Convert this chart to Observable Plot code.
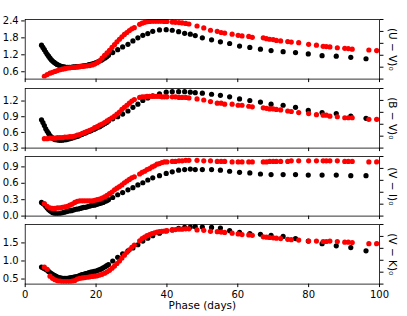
<!DOCTYPE html>
<html><head><meta charset="utf-8">
<script src="https://cdn.jsdelivr.net/npm/d3@7"></script>
<script src="https://cdn.jsdelivr.net/npm/@observablehq/plot@0.6"></script>
<style>
html,body{margin:0;padding:0;background:#fff;}
#chart{position:relative;width:407px;height:316px;overflow:hidden;font-family:"DejaVu Sans",sans-serif;}
#chart svg{position:absolute;left:0;overflow:visible;}
</style></head><body><div id="chart"></div>
<script>
const blackPhase = [
 4.6, 5.0, 5.4, 5.8, 6.2, 6.6, 7.0, 7.4, 7.8, 8.2,
 8.6, 9.0, 9.5, 10.0, 10.5, 11.0, 11.5, 12.0, 12.5, 13.0,
 13.5, 14.0, 14.5, 15.0, 15.5, 16.0, 16.5, 17.0, 17.5, 18.0,
 18.5, 19.0, 19.5, 20.0, 20.5, 21.0, 21.5, 22.0, 22.5, 23.0,
 23.5, 24.7, 26.1, 27.5, 29.0, 30.4, 31.8, 33.2, 34.6, 36.0,
 37.9, 39.8, 41.5, 43.3, 45.0, 46.6, 48.0, 50.0, 52.6, 55.1,
 57.7, 60.5, 63.4, 66.4, 69.4, 72.8, 76.3, 79.9, 83.8, 87.8,
 91.9, 96.2];
const redPhase = [
 5.4, 6.2, 7.0, 7.7, 8.4, 9.1, 9.8, 10.5, 11.2, 11.9,
 12.6, 13.3, 14.0, 14.7, 15.4, 16.1, 16.8, 17.5, 18.2, 18.9,
 19.6, 20.3, 21.0, 21.7, 22.4, 23.1, 23.8, 24.5, 25.2, 25.9,
 26.6, 27.3, 28.0, 28.7, 29.4, 30.1, 30.8, 32.3, 33.0, 33.7,
 34.4, 35.1, 35.8, 36.5, 37.2, 37.9, 38.6, 39.3, 40.0, 41.5,
 42.4, 43.4, 44.3, 45.3, 46.2, 48.5, 50.4, 52.3, 54.2, 55.3,
 56.3, 58.4, 60.1, 61.2, 63.1, 64.1, 67.2, 68.1, 69.0, 70.0,
 70.9, 72.1, 74.1, 75.1, 77.2, 80.0, 82.2, 84.1, 85.0, 86.0,
 88.1, 90.2, 91.2, 92.3, 97.0, 99.2];

const uvBlack = [
 1.54, 1.46, 1.38, 1.30, 1.22, 1.15, 1.08, 1.02, 0.97, 0.93,
 0.89, 0.86, 0.83, 0.80, 0.78, 0.77, 0.76, 0.76, 0.76, 0.76,
 0.77, 0.77, 0.78, 0.78, 0.79, 0.80, 0.81, 0.82, 0.83, 0.85,
 0.86, 0.88, 0.90, 0.92, 0.95, 0.98, 1.01, 1.05, 1.09, 1.13,
 1.18, 1.28, 1.38, 1.48, 1.57, 1.69, 1.80, 1.89, 1.95, 2.03,
 2.08, 2.09, 2.07, 2.02, 1.96, 1.93, 1.88, 1.80, 1.73, 1.66,
 1.60, 1.51, 1.46, 1.40, 1.35, 1.31, 1.28, 1.23, 1.17, 1.15,
 1.11, 1.06];
const uvRed = [
 0.44, 0.50, 0.55, 0.58, 0.61, 0.64, 0.67, 0.69, 0.71, 0.73,
 0.74, 0.75, 0.76, 0.77, 0.78, 0.79, 0.80, 0.81, 0.82, 0.84,
 0.87, 0.92, 0.99, 1.08, 1.18, 1.27, 1.36, 1.46, 1.56, 1.66,
 1.75, 1.84, 1.92, 1.99, 2.06, 2.12, 2.16, 2.28, 2.32, 2.35,
 2.37, 2.38, 2.39, 2.39, 2.39, 2.39, 2.39, 2.38, 2.38, 2.36,
 2.35, 2.34, 2.33, 2.31, 2.29, 2.22, 2.15, 2.07, 2.03, 1.99,
 1.97, 1.93, 1.89, 1.87, 1.85, 1.82, 1.80, 1.77, 1.75, 1.74,
 1.71, 1.69, 1.67, 1.65, 1.63, 1.57, 1.54, 1.50, 1.49, 1.48,
 1.45, 1.43, 1.42, 1.40, 1.37, 1.35];

const bvBlack = [
 0.84, 0.79, 0.73, 0.67, 0.62, 0.58, 0.54, 0.51, 0.49, 0.47,
 0.46, 0.46, 0.45, 0.45, 0.45, 0.46, 0.46, 0.47, 0.48, 0.49,
 0.50, 0.51, 0.52, 0.53, 0.55, 0.56, 0.58, 0.59, 0.61, 0.62,
 0.63, 0.65, 0.66, 0.68, 0.70, 0.71, 0.73, 0.75, 0.77, 0.79,
 0.82, 0.86, 0.90, 0.95, 1.01, 1.08, 1.14, 1.21, 1.26, 1.30,
 1.34, 1.37, 1.38, 1.38, 1.38, 1.37, 1.36, 1.35, 1.33, 1.31,
 1.28, 1.24, 1.21, 1.18, 1.14, 1.12, 1.08, 1.02, 0.98, 0.96,
 0.91, 0.87];
const bvRed = [
 0.48, 0.48, 0.49, 0.49, 0.49, 0.50, 0.50, 0.50, 0.51, 0.51,
 0.52, 0.52, 0.53, 0.55, 0.56, 0.58, 0.60, 0.62, 0.64, 0.66,
 0.69, 0.71, 0.74, 0.76, 0.79, 0.82, 0.85, 0.88, 0.91, 0.95,
 0.99, 1.04, 1.08, 1.12, 1.16, 1.20, 1.23, 1.27, 1.28, 1.28,
 1.29, 1.29, 1.29, 1.29, 1.29, 1.29, 1.28, 1.28, 1.28, 1.28,
 1.28, 1.27, 1.27, 1.27, 1.26, 1.24, 1.22, 1.19, 1.16, 1.16,
 1.14, 1.14, 1.12, 1.12, 1.10, 1.09, 1.07, 1.06, 1.05, 1.05,
 1.04, 1.03, 1.01, 1.00, 0.98, 0.96, 0.94, 0.93, 0.93, 0.91,
 0.90, 0.88, 0.88, 0.88, 0.85, 0.85];

const viBlack = [
 0.25, 0.23, 0.21, 0.18, 0.15, 0.12, 0.10, 0.08, 0.06, 0.05,
 0.04, 0.04, 0.04, 0.05, 0.06, 0.07, 0.08, 0.09, 0.10, 0.10,
 0.11, 0.12, 0.13, 0.13, 0.14, 0.15, 0.16, 0.16, 0.17, 0.18,
 0.19, 0.20, 0.20, 0.21, 0.22, 0.23, 0.24, 0.25, 0.27, 0.28,
 0.30, 0.34, 0.39, 0.43, 0.48, 0.52, 0.57, 0.61, 0.66, 0.70,
 0.74, 0.78, 0.81, 0.84, 0.85, 0.86, 0.85, 0.85, 0.85, 0.84,
 0.82, 0.80, 0.79, 0.77, 0.76, 0.76, 0.76, 0.75, 0.75, 0.75,
 0.74, 0.74];
const viRed = [
 0.23, 0.18, 0.15, 0.14, 0.14, 0.15, 0.15, 0.16, 0.17, 0.18,
 0.20, 0.22, 0.25, 0.27, 0.28, 0.28, 0.28, 0.28, 0.28, 0.28,
 0.29, 0.30, 0.31, 0.33, 0.35, 0.38, 0.41, 0.44, 0.48, 0.51,
 0.54, 0.57, 0.61, 0.64, 0.67, 0.70, 0.72, 0.77, 0.80, 0.82,
 0.85, 0.87, 0.90, 0.92, 0.95, 0.96, 0.98, 0.99, 0.99, 1.00,
 1.00, 1.01, 1.01, 1.02, 1.02, 1.02, 1.01, 1.01, 1.00, 1.00,
 1.00, 0.99, 0.99, 0.99, 0.99, 0.99, 0.99, 0.99, 1.00, 1.00,
 1.00, 1.00, 1.00, 1.01, 1.01, 1.01, 1.01, 1.01, 1.01, 1.01,
 1.01, 1.00, 1.00, 1.00, 0.99, 0.99];

const vkBlack = [
 0.83, 0.81, 0.79, 0.77, 0.74, 0.71, 0.68, 0.65, 0.62, 0.60,
 0.58, 0.56, 0.54, 0.53, 0.52, 0.52, 0.52, 0.52, 0.53, 0.54,
 0.55, 0.56, 0.57, 0.58, 0.60, 0.62, 0.63, 0.65, 0.66, 0.68,
 0.69, 0.70, 0.71, 0.72, 0.74, 0.76, 0.78, 0.81, 0.84, 0.87,
 0.90, 1.00, 1.10, 1.20, 1.28, 1.36, 1.45, 1.55, 1.63, 1.70,
 1.77, 1.83, 1.86, 1.90, 1.93, 1.94, 1.95, 1.94, 1.93, 1.91,
 1.84, 1.79, 1.76, 1.74, 1.71, 1.68, 1.62, 1.55, 1.48, 1.42,
 1.37, 1.28];
const vkRed = [
 0.83, 0.77, 0.58, 0.52, 0.48, 0.45, 0.44, 0.43, 0.43, 0.43,
 0.43, 0.44, 0.46, 0.50, 0.52, 0.53, 0.54, 0.55, 0.56, 0.57,
 0.58, 0.59, 0.61, 0.63, 0.66, 0.70, 0.74, 0.80, 0.86, 0.93,
 1.00, 1.08, 1.16, 1.24, 1.31, 1.38, 1.44, 1.56, 1.62, 1.66,
 1.70, 1.73, 1.76, 1.78, 1.80, 1.81, 1.82, 1.83, 1.84, 1.86,
 1.87, 1.88, 1.88, 1.89, 1.89, 1.86, 1.85, 1.82, 1.81, 1.80,
 1.79, 1.77, 1.75, 1.73, 1.72, 1.71, 1.67, 1.66, 1.65, 1.64,
 1.63, 1.62, 1.60, 1.59, 1.58, 1.55, 1.55, 1.54, 1.54, 1.55,
 1.54, 1.52, 1.52, 1.51, 1.48, 1.48];

const panelLabels = ["(U − V)₀", "(B − V)₀", "(V − I)₀", "(V − K)₀"];
const panelDomains = [[0.34, 2.45], [0.3, 1.44], [0.0, 1.09], [0.36, 2.01]];
const panelTicks = [[0.6, 1.2, 1.8, 2.4], [0.3, 0.6, 0.9, 1.2], [0.0, 0.3, 0.6, 0.9], [0.5, 1.0, 1.5]];
const xTicks = [0, 20, 40, 60, 80, 100];
const xLabel = "Phase (days)";

const blackSeries = [uvBlack, bvBlack, viBlack, vkBlack];
const redSeries = [uvRed, bvRed, viRed, vkRed];

const panelTops = [19.3, 87.6, 155.9, 224.2];
const panelH = 59.6;
const chart = document.getElementById("chart");

panelTops.forEach((top, i) => {
  const last = i === 3;
  const mt = 6, mb = last ? 32 : 6;
  const [lo, hi] = panelDomains[i];
  const rightTicks = [0, 0.2, 0.4, 0.6, 0.8, 1.0].map(f => lo + f * (hi - lo));
  const black = blackPhase.map((p, k) => ({phase: p, value: blackSeries[i][k]}));
  const red = redPhase.map((p, k) => ({phase: p, value: redSeries[i][k]}));
  const marks = [
    Plot.dot(black, {x: "phase", y: "value", r: 2.6, fill: "#000000", clip: true}),
    Plot.dot(red, {x: "phase", y: "value", r: 2.6, fill: "#ff0000", clip: true}),
    Plot.frame({stroke: "#000", strokeWidth: 0.8}),
    Plot.axisX({ticks: xTicks, tickSize: 3.5, tickPadding: 3, tickFormat: last ? (d => String(d)) : (() => ""), label: null, fontSize: 10}),
    Plot.axisY({ticks: panelTicks[i], tickSize: 3.5, tickPadding: 3, tickFormat: d3.format(".1f"), label: null, fontSize: 10}),
    Plot.axisY({anchor: "right", ticks: rightTicks, tickSize: 3.5, tickFormat: () => "", label: null}),
    Plot.text([panelLabels[i]], {frameAnchor: "right", rotate: 90, dx: 13, textAnchor: "middle", lineAnchor: "middle", fontSize: 10.5, fill: "#000"})
  ];
  if (last) {
    marks.push(Plot.text([xLabel], {frameAnchor: "bottom", dy: 22, textAnchor: "middle", lineAnchor: "middle", fontSize: 10.5, fill: "#000"}));
  }
  const svg = Plot.plot({
    width: 407,
    height: mt + panelH + mb,
    marginLeft: 24.7,
    marginRight: 28,
    marginTop: mt,
    marginBottom: mb,
    x: {domain: [0, 100]},
    y: {domain: [lo, hi]},
    style: {fontFamily: "DejaVu Sans, sans-serif", fontSize: "10px", color: "#000", background: "transparent", overflow: "visible"},
    marks
  });
  svg.style.top = (top - mt) + "px";
  chart.appendChild(svg);
});
</script>
</body></html>
